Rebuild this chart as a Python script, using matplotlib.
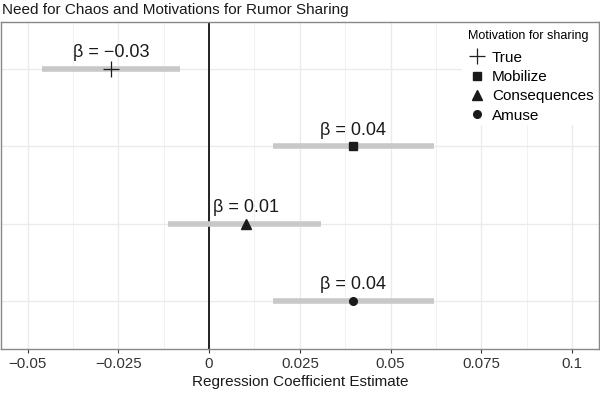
import matplotlib
matplotlib.use('Agg')
import matplotlib.pyplot as plt
from matplotlib.lines import Line2D
from matplotlib.patches import Rectangle
import numpy as np

# motivations, bottom to top
motives = ['Amuse', 'Consequences', 'Mobilize', 'True']
estimates = [0.0397, 0.0101, 0.0397, -0.027]
ci_low = [0.0175, -0.0112, 0.0175, -0.046]
ci_high = [0.0621, 0.0309, 0.0621, -0.0081]
labels = ['0.04', '0.01', '0.04', '\u22120.03']
markers = ['o', '^', 's', '+']
xticks = [-0.05, -0.025, 0, 0.025, 0.05, 0.075, 0.1]
xticklabels = ['\u22120.05', '\u22120.025', '0', '0.025', '0.05', '0.075', '0.1']

plt.rcParams['font.family'] = ['Liberation Sans', 'DejaVu Sans']

fig = plt.figure(figsize=(6, 3.96), dpi=100)
ax = fig.add_axes([0.002, 0.119, 0.996, 0.826])

ypos = np.arange(1, len(motives) + 1)
ax.set_xlim(-0.0573, 0.1074)
ax.set_ylim(0.38, 4.61)

# grid like theme_bw
for x in np.arange(-0.05, 0.11, 0.0125):
    major = abs(round(x / 0.025) * 0.025 - x) < 1e-9
    ax.axvline(x, color='#ebebeb', lw=1.0 if major else 0.5, zorder=0)
for y in ypos:
    ax.axhline(y, color='#ebebeb', lw=1.0, zorder=0)
ax.axvline(0, color='#222222', lw=1.4, zorder=1)

sizes = {'o': 5.5, '^': 6.5, 's': 5.5, '+': 11}
for y, est, lo, hi, lab, m in zip(ypos, estimates, ci_low, ci_high, labels, markers):
    ax.plot([lo, hi], [y, y], color='#c8c8c8', lw=4, solid_capstyle='butt', zorder=2)
    ax.plot(est, y, marker=m, color='#1a1a1a', ms=sizes[m], mew=0.9 if m == '+' else 1,
            ls='none', zorder=3)
    ax.text(est, y + 0.1, '\u03b2 = ' + lab, ha='center', va='bottom', fontsize=13, color='#1a1a1a')

ax.set_xticks(xticks)
ax.set_xticklabels(xticklabels, fontsize=10.8, color='#333333')
ax.set_yticks([])
ax.tick_params(axis='x', length=3, color='#333333', pad=3)
ax.set_xlabel('Regression Coefficient Estimate', fontsize=11, color='#1a1a1a', labelpad=3)
for s in ax.spines.values():
    s.set_color('#888888')
    s.set_linewidth(1.0)
    s.set_zorder(6)

# white box behind the legend, inside the panel
ax.add_patch(Rectangle((0.771, 0.685), 0.229, 0.315, transform=ax.transAxes,
                       facecolor='white', edgecolor='none', zorder=4))

handles = [
    Line2D([], [], marker='+', color='#222222', ms=11, mew=0.9, ls='none'),
    Line2D([], [], marker='s', color='#1a1a1a', ms=5.5, ls='none'),
    Line2D([], [], marker='^', color='#1a1a1a', ms=6.5, ls='none'),
    Line2D([], [], marker='o', color='#1a1a1a', ms=5.5, ls='none'),
]
leg = ax.legend(handles, ['True', 'Mobilize', 'Consequences', 'Amuse'],
                title='Motivation for sharing', loc='upper right',
                bbox_to_anchor=(1.022, 1.03), frameon=False, fontsize=11,
                title_fontsize=9, handletextpad=0.4, labelspacing=0.35,
                borderpad=0.7, handlelength=1.2)
leg._legend_box.align = 'left'
leg._legend_box.sep = 6
leg.set_zorder(5)

fig.text(0.003, 0.975, 'Need for Chaos and Motivations for Rumor Sharing',
         ha='left', va='center', fontsize=11, color='#1a1a1a')

fig.savefig('out.png', dpi=100)
